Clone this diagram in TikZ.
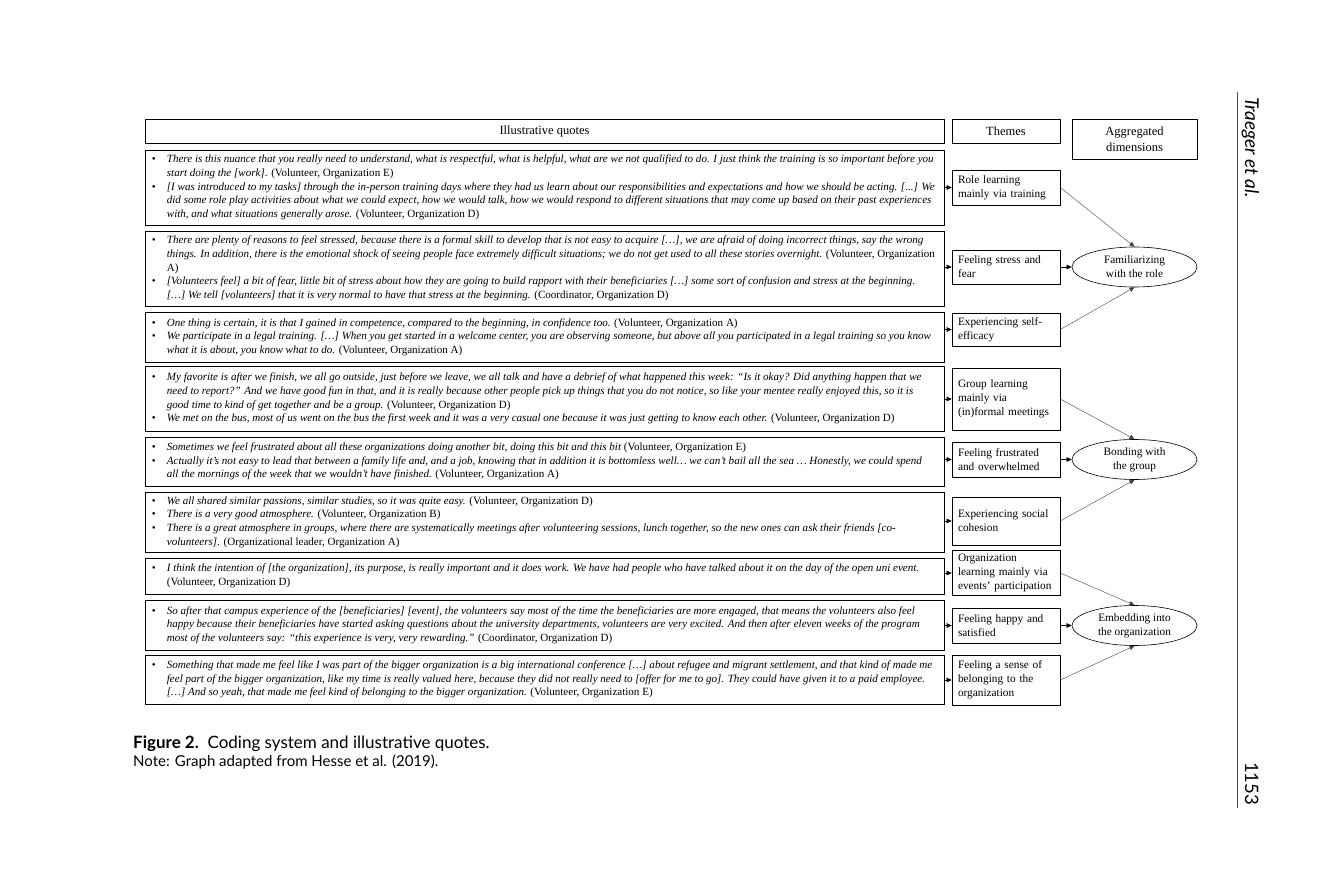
\documentclass[tikz,border=0pt]{standalone}
\usepackage{fontspec}
\setmainfont{Liberation Serif}
\newfontfamily\capfont{Lato}
\usetikzlibrary{shapes.geometric,arrows.meta}
\begin{document}
\begin{tikzpicture}[x=1pt,y=-1pt,
  box/.style={draw,line width=0.6pt,inner sep=0pt},
  qtext/.style={anchor=west,inner sep=0pt,align=left,font=\quotefont},
  tbox/.style={box,minimum width=108,text width=96,inner xsep=6,align=left,font=\themefont},
  dims/.style={draw,ellipse,line width=0.6pt,minimum width=125,minimum height=40,inner sep=0pt,align=center,font=\themefont},
  feed/.style={-{Triangle[length=5pt,width=4.5pt]},line width=0.5pt},
  link/.style={-{Triangle[length=5pt,width=4.5pt]},line width=0.4pt,black!75}]
\newcommand{\quotefont}{\fontsize{11.05}{13.6}\selectfont}
\newcommand{\themefont}{\fontsize{11.3}{14}\selectfont}
\newcommand{\headfont}{\fontsize{12.5}{16}\selectfont}
\newcommand{\qbul}{\makebox[15pt][l]{\textbullet}}
\newcommand{\qind}{\hspace*{15pt}}
\useasboundingbox (0,0) rectangle (1327,885);
%Header row
\node[box,minimum width=799,minimum height=24,font=\headfont] (hquotes) at (544.5,131) {Illustrative quotes};
\node[box,minimum width=108,minimum height=24,font=\headfont] (hthemes) at (1006,131) {Themes};
\node[box,minimum width=125,minimum height=40,font=\headfont,align=center] (hdims) at (1134.5,139) {Aggregated\\dimensions};
%Quote boxes
\node[box,minimum width=799,minimum height=75] (q1) at (544.5,187.5) {};
\node[box,minimum width=799,minimum height=75] (q2) at (544.5,268.5) {};
\node[box,minimum width=799,minimum height=50] (q3) at (544.5,337) {};
\node[box,minimum width=799,minimum height=65] (q4) at (544.5,398.5) {};
\node[box,minimum width=799,minimum height=49] (q5) at (544.5,461.5) {};
\node[box,minimum width=799,minimum height=60] (q6) at (544.5,522) {};
\node[box,minimum width=799,minimum height=36] (q7) at (544.5,576) {};
\node[box,minimum width=799,minimum height=50] (q8) at (544.5,625) {};
\node[box,minimum width=799,minimum height=49] (q9) at (544.5,679.5) {};
%Quotes
\node[qtext] (q1t) at ([xshift=7pt]q1.west) {\qbul{\itshape There is this nuance that you really need to understand, what is respectful, what is helpful, what are we not qualified to do. I just think the training is so important before you}\\
\qind{\itshape start doing the [work]}. (Volunteer, Organization E)\\
\qbul{\itshape [I was introduced to my tasks] through the in-person training days where they had us learn about our responsibilities and expectations and how we should be acting. [...] We}\\
\qind{\itshape did some role play activities about what we could expect, how we would talk, how we would respond to different situations that may come up based on their past experiences}\\
\qind{\itshape with, and what situations generally arose.} (Volunteer, Organization D)};
\node[qtext] (q2t) at ([xshift=7pt]q2.west) {\qbul{\itshape There are plenty of reasons to feel stressed, because there is a formal skill to develop that is not easy to acquire […], we are afraid of doing incorrect things, say the wrong}\\
\qind{\itshape things. In addition, there is the emotional shock of seeing people face extremely difficult situations; we do not get used to all these stories overnight.} (Volunteer, Organization\\
\qind A)\\
\qbul{\itshape [Volunteers feel] a bit of fear, little bit of stress about how they are going to build rapport with their beneficiaries […] some sort of confusion and stress at the beginning.}\\
\qind{\itshape […] We tell [volunteers] that it is very normal to have that stress at the beginning.} (Coordinator, Organization D)};
\node[qtext] (q3t) at ([xshift=7pt]q3.west) {\qbul{\itshape One thing is certain, it is that I gained in competence, compared to the beginning, in confidence too.} (Volunteer, Organization A)\\
\qbul{\itshape We participate in a legal training. […] When you get started in a welcome center, you are observing someone, but above all you participated in a legal training so you know}\\
\qind{\itshape what it is about, you know what to do.} (Volunteer, Organization A)};
\node[qtext] (q4t) at ([xshift=7pt]q4.west) {\qbul{\itshape My favorite is after we finish, we all go outside, just before we leave, we all talk and have a debrief of what happened this week: “Is it okay? Did anything happen that we}\\
\qind{\itshape need to report?” And we have good fun in that, and it is really because other people pick up things that you do not notice, so like your mentee really enjoyed this, so it is}\\
\qind{\itshape good time to kind of get together and be a group.} (Volunteer, Organization D)\\
\qbul{\itshape We met on the bus, most of us went on the bus the first week and it was a very casual one because it was just getting to know each other.} (Volunteer, Organization D)};
\node[qtext] (q5t) at ([xshift=7pt]q5.west) {\qbul{\itshape Sometimes we feel frustrated about all these organizations doing another bit, doing this bit and this bit} (Volunteer, Organization E)\\
\qbul{\itshape Actually it’s not easy to lead that between a family life and, and a job, knowing that in addition it is bottomless well… we can’t bail all the sea … Honestly, we could spend}\\
\qind{\itshape all the mornings of the week that we wouldn’t have finished.} (Volunteer, Organization A)};
\node[qtext] (q6t) at ([xshift=7pt]q6.west) {\qbul{\itshape We all shared similar passions, similar studies, so it was quite easy.} (Volunteer, Organization D)\\
\qbul{\itshape There is a very good atmosphere.} (Volunteer, Organization B)\\
\qbul{\itshape There is a great atmosphere in groups, where there are systematically meetings after volunteering sessions, lunch together, so the new ones can ask their friends [co-}\\
\qind{\itshape volunteers]}. (Organizational leader, Organization A)};
\node[qtext] (q7t) at ([xshift=7pt]q7.west) {\qbul{\itshape I think the intention of [the organization], its purpose, is really important and it does work. We have had people who have talked about it on the day of the open uni event.}\\
\qind(Volunteer, Organization D)};
\node[qtext] (q8t) at ([xshift=7pt]q8.west) {\qbul{\itshape So after that campus experience of the [beneficiaries] [event], the volunteers say most of the time the beneficiaries are more engaged, that means the volunteers also feel}\\
\qind{\itshape happy because their beneficiaries have started asking questions about the university departments, volunteers are very excited. And then after eleven weeks of the program}\\
\qind{\itshape most of the volunteers say: “this experience is very, very rewarding.”} (Coordinator, Organization D)};
\node[qtext] (q9t) at ([xshift=7pt]q9.west) {\qbul{\itshape Something that made me feel like I was part of the bigger organization is a big international conference […] about refugee and migrant settlement, and that kind of made me}\\
\qind{\itshape feel part of the bigger organization, like my time is really valued here, because they did not really need to [offer for me to go]. They could have given it to a paid employee.}\\
\qind{\itshape […] And so yeah, that made me feel kind of belonging to the bigger organization.} (Volunteer, Organization E)};
%Themes
\node[tbox,minimum height=35] (t1) at (1006,187.5) {Role learning\\mainly via training};
\node[tbox,minimum height=34] (t2) at (1006,267) {Feeling stress and\\fear};
\node[tbox,minimum height=33] (t3) at (1006,329.5) {Experiencing self-\\efficacy};
\node[tbox,minimum height=62] (t4) at (1006,399) {Group learning\\mainly via\\(in)formal meetings};
\node[tbox,minimum height=35] (t5) at (1006,459.5) {Feeling frustrated\\and overwhelmed};
\node[tbox,minimum height=48] (t6) at (1006,521) {Experiencing social\\cohesion};
\node[tbox,minimum height=45,font=\fontsize{11.3}{13.6}\selectfont] (t7) at (1006,573) {Organization\\learning mainly via\\events’ participation};
\node[tbox,minimum height=35] (t8) at (1006,625.5) {Feeling happy and\\satisfied};
\node[tbox,minimum height=50] (t9) at (1006,680) {Feeling a sense of\\belonging to the\\organization};
%Aggregated dimensions
\node[dims] (e1) at (1134.5,267) {Familiarizing\\with the role};
\node[dims] (e2) at (1134.5,459.5) {Bonding with\\the group};
\node[dims] (e3) at (1134.5,625.5) {Embedding into\\the organization};
%Arrows quotes to themes
\foreach \i in {1,...,9} {
  \draw[feed] (q\i.east |- t\i.west) -- (t\i.west);
}
%Arrows themes to dimensions
\foreach \ta/\tb/\tc/\ed in {1/2/3/1,4/5/6/2,7/8/9/3} {
  \draw[link] (t\ta.east) -- (e\ed.north);
  \draw[feed] (t\tb) -- (e\ed);
  \draw[link] (t\tc.east) -- (e\ed.south);
}
%Caption
\node[anchor=base west,inner sep=0pt,font=\capfont\fontsize{17}{19}\selectfont] (caption) at (133,748) {\textbf{Figure 2.}\ \ Coding system and illustrative quotes.};
\node[anchor=base west,inner sep=0pt,font=\capfont\fontsize{15}{17}\selectfont] (note) at (133,766) {Note: Graph adapted from Hesse et al. (2019).};
%Running head
\coordinate (ruletop) at (1237,92);
\coordinate (rulebot) at (1237,808);
\draw[line width=0.6pt,black!70] (ruletop) -- (rulebot);
\node[rotate=-90,anchor=base west,inner sep=0pt,font=\capfont\itshape\fontsize{19}{21}\selectfont] (runhead) at (1245,97) {Traeger et al.};
\node[rotate=-90,anchor=base west,inner sep=0pt,font=\capfont\fontsize{18.5}{20}\selectfont] (pageno) at (1245,762) {1153};
\end{tikzpicture}
\end{document}
